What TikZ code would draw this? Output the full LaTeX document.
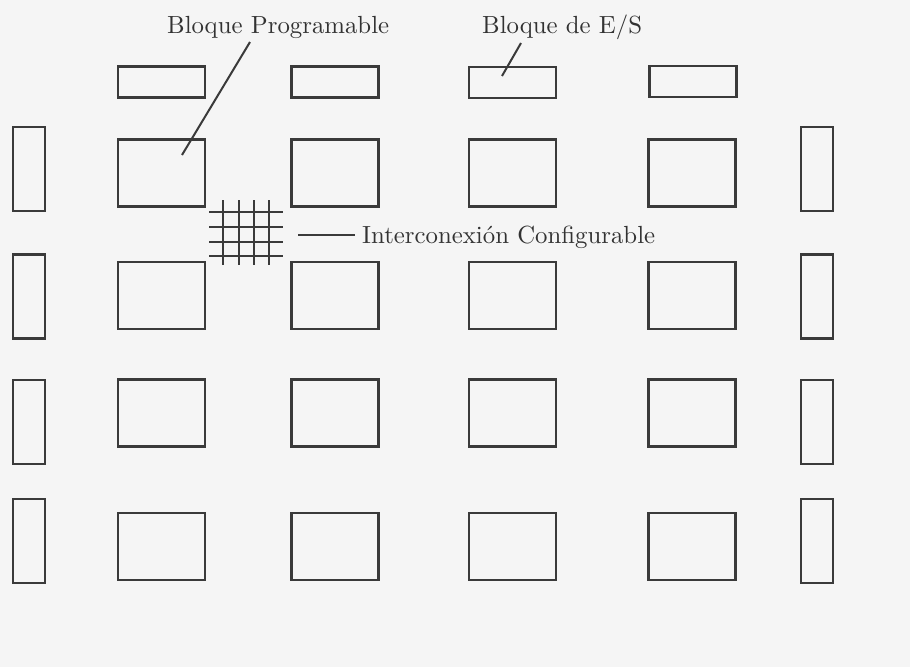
\documentclass[tikz,border=0pt]{standalone}
\usepackage{graphicx}
\definecolor{paper}{RGB}{245,245,245}
\definecolor{ink}{RGB}{58,58,58}
\definecolor{textink}{RGB}{50,50,50}
\newcommand{\biglabel}[1]{\scalebox{2.48}{#1}}
\tikzset{
  box/.style={draw=ink,line width=2.7pt,inner sep=0pt,outer sep=0pt},
  iow/.style={box,minimum width=87pt,minimum height=31pt},
  clb/.style={box,minimum width=87pt,minimum height=67pt},
  iot/.style={box,minimum width=32pt,minimum height=84pt},
  lbl/.style={text=textink,inner sep=0pt,font=\fontsize{10}{12}\selectfont},
  leader/.style={draw=ink,line width=2pt},
  gridline/.style={draw=ink,line width=2.8pt}
}
\begin{document}
\begin{tikzpicture}[x=1pt,y=-1pt]
\fill[paper] (0,0) rectangle (910,667);
\useasboundingbox (0,0) rectangle (910,667);
% I/O blocks top row
\node[iow] (t1) at (161.5,82) {};
\node[iow] (t2) at (335,82) {};
\node[iow] (t3) at (512.5,82.5) {};
\node[iow] (t4) at (693,81.5) {};
% I/O blocks left column
\node[iot] (l1) at (29,169) {};
\node[iot] (l2) at (29,296.5) {};
\node[iot] (l3) at (29,422) {};
\node[iot] (l4) at (29,541) {};
% I/O blocks right column
\node[iot] (r1) at (817,169) {};
\node[iot] (r2) at (817,296.5) {};
\node[iot] (r3) at (817,422) {};
\node[iot] (r4) at (817,541) {};
% programmable blocks
\foreach \cx [count=\i] in {161.5,335,512.5,692}{
  \foreach \cy [count=\j] in {173,295.5,413,546.5}{
    \node[clb] (b\i\j) at (\cx,\cy) {};
  }
}
% interconnect grid
\foreach \gx in {223,239,254,269}{
  \draw[gridline] (\gx,200) -- (\gx,265);
}
\foreach \gy in {212,227,242,256}{
  \draw[gridline] (209,\gy) -- (283,\gy);
}
% labels
\node[lbl,anchor=base west] (lp) at (167,33) {\biglabel{Bloque Programable}};
\node[lbl,anchor=base west] (les) at (482,33) {\biglabel{Bloque de E/S}};
\node[lbl,anchor=base west] (lic) at (362,243) {\biglabel{Interconexión Configurable}};
% leaders
\coordinate (lpa) at (250,42);
\coordinate (lpb) at (182,155);
\draw[leader] (lpa) -- (lpb);
\coordinate (lea) at (521,43);
\coordinate (leb) at (502,76);
\draw[leader] (lea) -- (leb);
\coordinate (lia) at (298,235);
\coordinate (lib) at (355,235);
\draw[leader] (lia) -- (lib);
\end{tikzpicture}
\end{document}
